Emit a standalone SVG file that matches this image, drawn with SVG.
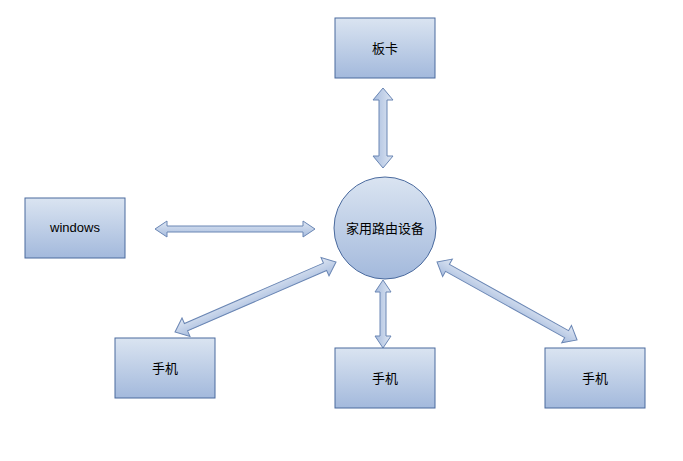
<svg xmlns="http://www.w3.org/2000/svg" width="683" height="461" viewBox="0 0 683 461">
<defs>
<linearGradient id="g" x1="0" y1="0" x2="0" y2="1"><stop offset="0" stop-color="#dae4f1"/><stop offset="1" stop-color="#a3b9dc"/></linearGradient>
<linearGradient id="ga" x1="0" y1="0" x2="0" y2="1"><stop offset="0" stop-color="#dfe7f3"/><stop offset="1" stop-color="#a7bcde"/></linearGradient>
<style>
.n{fill:url(#g);stroke:#4a6a9e;stroke-width:1}
.t{font-family:"Liberation Sans","Noto Sans CJK SC",sans-serif;font-size:13px;fill:#000;text-anchor:middle}
.a{fill:url(#ga);stroke:#6a86b4;stroke-width:1}
</style>
</defs>
<rect width="683" height="461" fill="#fff"/>
<g id="connectors">
<path class="a" transform="translate(383,88) rotate(90)" d="M0,0 L12,-10 L12,-4 L68,-4 L68,-10 L80,0 L68,10 L68,4 L12,4 L12,10 Z"/>
<path class="a" transform="translate(155,229)" d="M0,0 L12,-8 L12,-3 L148,-3 L148,-8 L160,0 L148,8 L148,3 L12,3 L12,8 Z"/>
<path class="a" transform="translate(175,332) rotate(-23.5)" d="M0,0 L12,-10 L12,-4 L163.6,-4 L163.6,-10 L175.6,0 L163.6,10 L163.6,4 L12,4 L12,10 Z"/>
<path class="a" transform="translate(383,280) rotate(90)" d="M0,0 L12,-8 L12,-3 L56,-3 L56,-8 L68,0 L56,8 L56,3 L12,3 L12,8 Z"/>
<path class="a" transform="translate(437,262) rotate(29.1)" d="M0,0 L12,-10 L12,-4 L148.3,-4 L148.3,-10 L160.3,0 L148.3,10 L148.3,4 L12,4 L12,10 Z"/>
</g>
<g id="bankа"><rect class="n" x="335" y="18" width="100" height="60"/><text class="t" x="385" y="53">板卡</text></g>
<g id="windows"><rect class="n" x="25" y="198" width="100" height="60"/><text class="t" x="75" y="232">windows</text></g>
<g id="router"><circle class="n" cx="385" cy="228" r="51"/><text class="t" x="385" y="233">家用路由设备</text></g>
<g id="phone1"><rect class="n" x="115" y="338" width="100" height="60"/><text class="t" x="165" y="373">手机</text></g>
<g id="phone2"><rect class="n" x="335" y="348" width="100" height="60"/><text class="t" x="385" y="383">手机</text></g>
<g id="phone3"><rect class="n" x="545" y="348" width="100" height="60"/><text class="t" x="595" y="383">手机</text></g>
</svg>
